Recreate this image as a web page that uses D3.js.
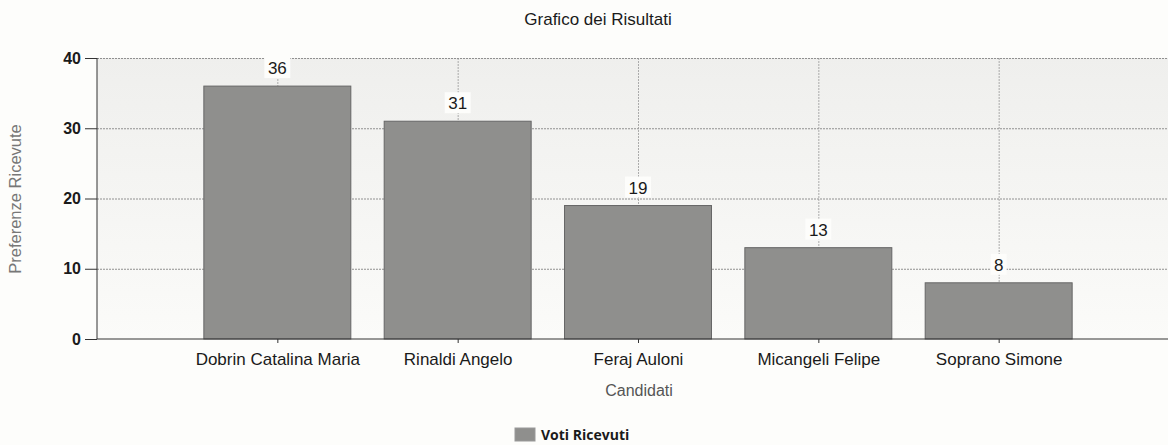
<!DOCTYPE html>
<html>
<head>
<meta charset="utf-8">
<script src="https://cdn.jsdelivr.net/npm/d3@7"></script>
<style>
    body { margin: 0; background: #fdfdfb; }
    svg { display: block; }
    .axis text { font-family: "Liberation Sans", Arial, sans-serif; fill: #1a1a1a; }
    .axis path, .axis line { stroke: #333; }
    .grid line { stroke: #777; stroke-dasharray: 2,1; stroke-width: 0.8; }
    .grid path { display: none; }
</style>
</head>
<body>
<div id="chart"></div>
<script>
var candidati = ["Dobrin Catalina Maria", "Rinaldi Angelo", "Feraj Auloni", "Micangeli Felipe", "Soprano Simone"];
var voti = [36, 31, 19, 13, 8];
var yTicks = [0, 10, 20, 30, 40];

var data = candidati.map(function(c, i) { return {name: c, value: voti[i]}; });

var width = 1168, height = 445;
var margin = {top: 58, left: 97, bottom: 106};

var svg = d3.select("#chart")
    .append("svg")
    .attr("width", width)
    .attr("height", height);

// x positions: categories sit at 1..n on a 0..n+1 axis, plot runs past the right edge
var xScale = d3.scaleLinear().domain([0, candidati.length + 1]).range([margin.left, 1179]);
var yScale = d3.scaleLinear().domain([0, 40]).range([height - margin.bottom, margin.top]);
var step = xScale(1) - xScale(0);
var barW = step * 0.815;

var defs = svg.append("defs");
var grad = defs.append("linearGradient").attr("id", "bg").attr("x1", 0).attr("x2", 0).attr("y1", 0).attr("y2", 1);
grad.append("stop").attr("offset", "0%").attr("stop-color", "#efefed");
grad.append("stop").attr("offset", "100%").attr("stop-color", "#fbfbf9");

svg.append("rect")
    .attr("x", margin.left)
    .attr("y", yScale(40))
    .attr("width", width - margin.left)
    .attr("height", yScale(0) - yScale(40))
    .attr("fill", "url(#bg)");

// horizontal gridlines
svg.append("g")
    .attr("class", "grid")
    .attr("transform", "translate(" + margin.left + ",0)")
    .call(d3.axisRight(yScale).tickValues(yTicks.slice(1)).tickSize(width).tickFormat(""));

// vertical gridlines on the categories
svg.append("g")
    .attr("class", "grid")
    .attr("transform", "translate(0," + yScale(40) + ")")
    .call(d3.axisBottom(xScale).tickValues(d3.range(1, candidati.length + 1)).tickSize(yScale(0) - yScale(40)).tickFormat(""))
    .selectAll("line").style("stroke", "#999");

svg.selectAll(".bar")
    .data(data)
    .enter().append("rect")
    .attr("class", "bar")
    .attr("x", function(d, i) { return xScale(i + 1) - barW / 2; })
    .attr("y", function(d) { return yScale(d.value); })
    .attr("width", barW)
    .attr("height", function(d) { return yScale(0) - yScale(d.value); })
    .attr("fill", "#8f8f8d")
    .attr("stroke", "#666")
    .attr("stroke-width", 1);

// value labels with white backing
var labels = svg.selectAll(".val")
    .data(data)
    .enter().append("g")
    .attr("class", "val")
    .attr("transform", function(d, i) { return "translate(" + xScale(i + 1) + "," + (yScale(d.value) - 12) + ")"; });

labels.append("rect")
    .attr("x", function(d) { return String(d.value).length > 1 ? -13 : -8; })
    .attr("y", -17)
    .attr("width", function(d) { return String(d.value).length > 1 ? 26 : 16; })
    .attr("height", 21)
    .attr("fill", "#fdfdfb");

labels.append("text")
    .attr("text-anchor", "middle")
    .style("font-family", "Liberation Sans, Arial, sans-serif")
    .style("font-size", "17px")
    .style("fill", "#1a1a1a")
    .text(function(d) { return d.value; });

// y axis
var yAxisG = svg.append("g")
    .attr("class", "axis")
    .attr("transform", "translate(" + margin.left + ",0)")
    .call(d3.axisLeft(yScale).tickValues(yTicks).tickSize(12).tickPadding(4));
yAxisG.select(".domain").attr("d", "M0," + yScale(40) + "V" + yScale(0));
yAxisG.selectAll("text").style("font-size", "16px").style("font-weight", "bold");

// x axis
var xAxisG = svg.append("g")
    .attr("class", "axis")
    .attr("transform", "translate(0," + yScale(0) + ")")
    .call(d3.axisBottom(xScale)
        .tickValues(d3.range(1, candidati.length + 1))
        .tickSize(4)
        .tickPadding(10)
        .tickFormat(function(d) { return candidati[d - 1]; }));
xAxisG.select(".domain").attr("d", "M" + margin.left + ",0H" + width);
xAxisG.selectAll("text").style("font-size", "17px");

// titles
svg.append("text")
    .attr("x", 598)
    .attr("y", 25)
    .attr("text-anchor", "middle")
    .style("font-family", "Liberation Sans, Arial, sans-serif")
    .style("font-size", "17px")
    .style("fill", "#1a1a1a")
    .text("Grafico dei Risultati");

svg.append("text")
    .attr("x", 639)
    .attr("y", 396)
    .attr("text-anchor", "middle")
    .style("font-family", "Liberation Sans, Arial, sans-serif")
    .style("font-size", "16px")
    .style("fill", "#555")
    .text("Candidati");

svg.append("text")
    .attr("transform", "translate(21,199) rotate(-90)")
    .attr("text-anchor", "middle")
    .style("font-family", "Liberation Sans, Arial, sans-serif")
    .style("font-size", "16.5px")
    .style("fill", "#777")
    .text("Preferenze Ricevute");

// legend
var legend = svg.append("g").attr("transform", "translate(515,428)");
legend.append("rect")
    .attr("width", 20)
    .attr("height", 13)
    .attr("fill", "#8f8f8d")
    .attr("stroke", "#999");
legend.append("text")
    .attr("x", 26)
    .attr("y", 12)
    .style("font-family", "Open Sans, sans-serif")
    .style("font-size", "14px")
    .style("font-weight", "bold")
    .style("fill", "#1a1a1a")
    .text("Voti Ricevuti");
</script>
</body>
</html>
